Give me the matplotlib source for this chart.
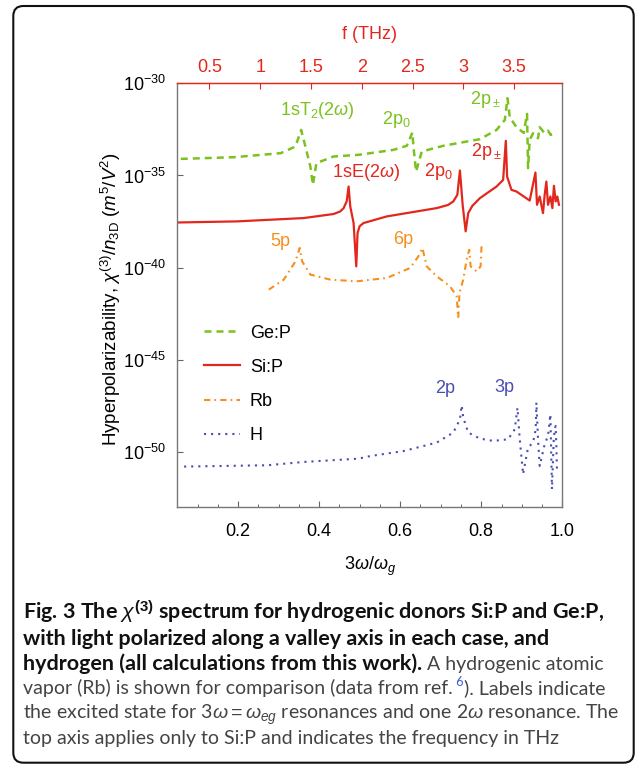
import matplotlib
matplotlib.use('Agg')
import matplotlib.pyplot as plt
import numpy as np
from matplotlib.patches import FancyBboxPatch
from matplotlib.transforms import IdentityTransform
from matplotlib.ticker import MultipleLocator, NullLocator

plt.rcParams['font.family'] = ['Liberation Sans', 'DejaVu Sans']
plt.rcParams['font.size'] = 13
plt.rcParams['mathtext.fontset'] = 'custom'
plt.rcParams['mathtext.rm'] = 'Liberation Sans'
plt.rcParams['mathtext.it'] = 'Liberation Sans:italic'
plt.rcParams['mathtext.bf'] = 'Liberation Sans:bold'

# ---- data: x = 3w/wg, y = log10(chi3 / n3D) ----
gep_x = [0.0586, 0.189, 0.305, 0.3415, 0.3556, 0.3661, 0.3784, 0.3846, 0.3932,
         0.4358, 0.4974, 0.5834, 0.6163, 0.6301, 0.6326, 0.6392, 0.6532, 0.7064,
         0.7967, 0.8377, 0.8581, 0.8648, 0.8704, 0.8869, 0.9049, 0.9130, 0.9155,
         0.9196, 0.9278, 0.9401, 0.9442, 0.9565, 0.9647, 0.9713, 0.9811]
gep_log = [-34.10, -34.01, -33.79, -33.43, -32.53, -33.43, -34.52, -35.51, -34.33,
           -33.97, -33.88, -33.61, -33.39, -32.67, -33.43, -34.79, -33.70, -33.39,
           -33.03, -32.53, -31.99, -30.81, -31.84, -32.38, -32.69, -31.66, -34.60,
           -33.07, -32.71, -32.98, -32.38, -32.71, -32.57, -32.80, -32.74]

sip_x = [0.052, 0.1981, 0.3620, 0.4358, 0.4520, 0.4604, 0.4680, 0.4727, 0.4768,
         0.4850, 0.4916, 0.4948, 0.5000, 0.5096, 0.5671, 0.6901, 0.7180, 0.7310,
         0.7410, 0.7474, 0.7541, 0.7615, 0.7679, 0.7780, 0.7967, 0.8377, 0.8540,
         0.8606, 0.8638, 0.8746, 0.8869, 0.9196, 0.9337, 0.9376, 0.9442, 0.9524,
         0.9565, 0.9607, 0.9647, 0.9706, 0.9755, 0.9794, 0.9836, 0.9877, 0.9917]
sip_log = [-37.55, -37.49, -37.31, -37.09, -36.95, -36.77, -36.40, -35.60, -36.68,
           -37.58, -39.93, -38.12, -37.75, -37.58, -37.22, -36.77, -36.60, -36.41,
           -36.05, -34.73, -36.59, -38.03, -37.04, -36.65, -36.23, -35.60, -35.24,
           -33.12, -35.06, -35.78, -35.87, -36.36, -34.84, -36.59, -36.14, -37.04,
           -36.05, -35.33, -36.59, -36.14, -36.77, -35.56, -36.41, -36.14, -36.59]

rb_x = [0.2759, 0.3128, 0.3415, 0.3521, 0.3580, 0.3784, 0.4276, 0.4933, 0.5671,
        0.6244, 0.6449, 0.6547, 0.6655, 0.6901, 0.7228, 0.7393, 0.7433, 0.7462,
        0.7556, 0.7639, 0.7703, 0.7738, 0.7885, 0.7984, 0.8008]
rb_log = [-41.19, -40.65, -39.66, -38.93, -39.66, -40.38, -40.65, -40.74, -40.56,
          -40.02, -39.39, -38.93, -39.93, -40.47, -41.01, -41.55, -42.72, -41.37,
          -40.65, -39.57, -39.03, -39.93, -40.20, -39.93, -38.79]

h_x = [0.0668, 0.2719, 0.362, 0.4974, 0.5260, 0.6080, 0.6901, 0.7310, 0.7474,
       0.7516, 0.7556, 0.7679, 0.7967, 0.8294, 0.8663, 0.8827, 0.8894, 0.8950,
       0.9032, 0.9155, 0.9278, 0.9344, 0.9361, 0.9401, 0.9442, 0.9565, 0.9647,
       0.9706, 0.9745, 0.9787, 0.9811, 0.9836, 0.9853, 0.9868]
h_log = [-50.79, -50.72, -50.54, -50.36, -50.22, -49.95, -49.49, -48.95, -48.23,
         -47.47, -48.14, -48.95, -49.27, -49.40, -49.31, -48.77, -47.60, -49.31,
         -51.21, -49.76, -49.49, -48.77, -47.32, -49.31, -50.76, -49.58, -49.13,
         -47.96, -52.02, -49.40, -48.77, -48.59, -49.67, -50.94]

# resonance labels: (x, log10 y, text, series)
labels = [(0.396, -31.48, r'1sT$_2$(2$\omega$)', 'ge'),
          (0.5913, -31.99, r'2p$_0$', 'ge'),
          (0.8104, -30.90, r'2p$_\pm$', 'ge'),
          (0.5163, -34.84, r'1sE(2$\omega$)', 'si'),
          (0.6945, -34.78, r'2p$_0$', 'si'),
          (0.8124, -33.70, r'2p$_\pm$', 'si'),
          (0.3034, -38.58, '5p', 'rb'),
          (0.6069, -38.48, '6p', 'rb'),
          (0.7105, -46.57, '2p', 'h'),
          (0.8568, -46.48, '3p', 'h')]

x_ticks = [0.2, 0.4, 0.6, 0.8, 1.0]
y_ticks = [1e-50, 1e-45, 1e-40, 1e-35, 1e-30]
f_ticks = [0.5, 1, 1.5, 2, 2.5, 3, 3.5]
f_ticklabels = ['0.5', '1', '1.5', '2', '2.5', '3', '3.5']

colors = {'ge': '#7cc21f', 'si': '#e2271c', 'rb': '#f5901e', 'h': '#4a4db2'}

W, H = 637, 765
fig = plt.figure(figsize=(W / 100, H / 100), dpi=100)
ax = fig.add_axes([177.3 / W, 1 - 507.3 / H, 385 / W, 424 / H])

ax.plot(gep_x, 10 ** np.array(gep_log), color=colors['ge'], lw=1.8,
        linestyle=(0, (2.8, 2.0)), label='Ge:P')
ax.plot(sip_x, 10 ** np.array(sip_log), color=colors['si'], lw=1.6,
        label='Si:P')
ax.plot(rb_x, 10 ** np.array(rb_log), color=colors['rb'], lw=1.5,
        linestyle=(0, (3, 2, 0.8, 2)), label='Rb')
ax.plot(h_x, 10 ** np.array(h_log), color=colors['h'], lw=1.5,
        linestyle=(0, (1, 2.4)), label='H')

for x, ly, txt, key in labels:
    ax.text(x, 10 ** ly, txt, color=colors[key], ha='center', va='center',
            fontsize=13)

ax.set_yscale('log')
ax.set_xlim(0.05, 1.0)
ax.set_ylim(1e-53, 1e-30)
ax.set_yticks(y_ticks)
ax.yaxis.set_minor_locator(NullLocator())
ax.set_xticks(x_ticks)
ax.set_xticklabels(['%.1f' % v for v in x_ticks])
ax.xaxis.set_minor_locator(MultipleLocator(0.05))
ax.tick_params(axis='both', which='major', direction='in', length=4,
               width=0.8, color='#666666', labelsize=13)
ax.tick_params(axis='x', which='minor', direction='in', length=2.5,
               width=0.7, color='#666666')
ax.tick_params(axis='x', pad=11)
ax.tick_params(axis='y', pad=8)
for side in ['left', 'bottom', 'right']:
    ax.spines[side].set_color('#777777')
    ax.spines[side].set_linewidth(1.0)
ax.spines['top'].set_color(colors['si'])

ax.set_xlabel(r'3$\omega/\omega_g$', fontsize=13, labelpad=11)
ax.set_ylabel(r'Hyperpolarizability, $\chi^{(3)}/n_{\mathrm{3D}}$ ($m^5/V^2$)',
              fontsize=13.5)
ax.yaxis.set_label_coords(-0.142, 0.49)

secax = ax.secondary_xaxis('top', functions=(lambda x: (x - 0.0036) / 0.2508,
                                              lambda f: 0.0036 + 0.2508 * f))
secax.set_xticks(f_ticks, labels=f_ticklabels)
secax.tick_params(direction='in', length=4, width=0.8, color=colors['si'],
                  labelcolor=colors['si'], labelsize=13, pad=5)
secax.spines['top'].set_color(colors['si'])
secax.spines['top'].set_linewidth(1.0)
secax.set_xlabel('f (THz)', color=colors['si'], fontsize=13, labelpad=15)

ax.legend(loc='upper left', bbox_to_anchor=(0.069, 0.431), frameon=False,
          borderpad=0, borderaxespad=0, handlelength=2.0, handletextpad=0.55,
          labelspacing=0.95, fontsize=13)

# ---- caption ----
renderer = fig.canvas.get_renderer()
cap_left = 23.3
bold = dict(family=['Lato', 'DejaVu Sans'], weight='bold', color='#111111')
light = dict(family=['Lato', 'DejaVu Sans'], weight='normal', color='#444444')
sup = dict(family=['Lato', 'DejaVu Sans'], weight='normal', color='#3a5bd9')

line5 = r'the excited state for 3$\omega = \omega_{eg}$ resonances and one 2$\omega$ resonance. The'
line6 = 'top axis applies only to Si:P and indicates the frequency in THz'


def fit_size(text, props, target):
    t = fig.text(0, 0, text, fontsize=14, **props)
    w = t.get_window_extent(renderer).width
    t.remove()
    return 14 * target / w


bsize = fit_size('with light polarized along a valley axis in each case, and',
                 bold, 530.0)
lsize = min(fit_size(line6, light, 550.7), fit_size(line5, light, 596.7))


def caption_line(y_px, pieces):
    x_px = cap_left
    for s, props, size, dy in pieces:
        t = fig.text(x_px / W, 1 - (y_px - dy) / H, s, ha='left', va='baseline',
                     fontsize=size, **props)
        x_px += t.get_window_extent(renderer).width


y0, dy = 620.0, 24.8
caption_line(y0, [(r'Fig. 3 The $\chi^{\mathbf{(3)}}$ spectrum for hydrogenic donors Si:P and Ge:P,', bold, bsize, 0)])
caption_line(y0 + dy, [('with light polarized along a valley axis in each case, and', bold, bsize, 0)])
caption_line(y0 + 2 * dy, [('hydrogen (all calculations from this work).', bold, bsize, 0),
                           (' A hydrogenic atomic', light, lsize, 0)])
caption_line(y0 + 3 * dy, [('vapor (Rb) is shown for comparison (data from ref.', light, lsize, 0),
                           (' 6', sup, lsize * 0.65, 8),
                           ('). Labels indicate', light, lsize, 0)])
caption_line(y0 + 4 * dy, [(line5, light, lsize, 0)])
caption_line(y0 + 5 * dy, [(line6, light, lsize, 0)])

box = FancyBboxPatch((13.3, H - 762.7), 620.4, 756.7,
                     boxstyle='round,pad=0,rounding_size=10',
                     transform=IdentityTransform(), fill=False, lw=1.5,
                     ec='#111111')
fig.add_artist(box)

fig.savefig('out.png', dpi=100)
